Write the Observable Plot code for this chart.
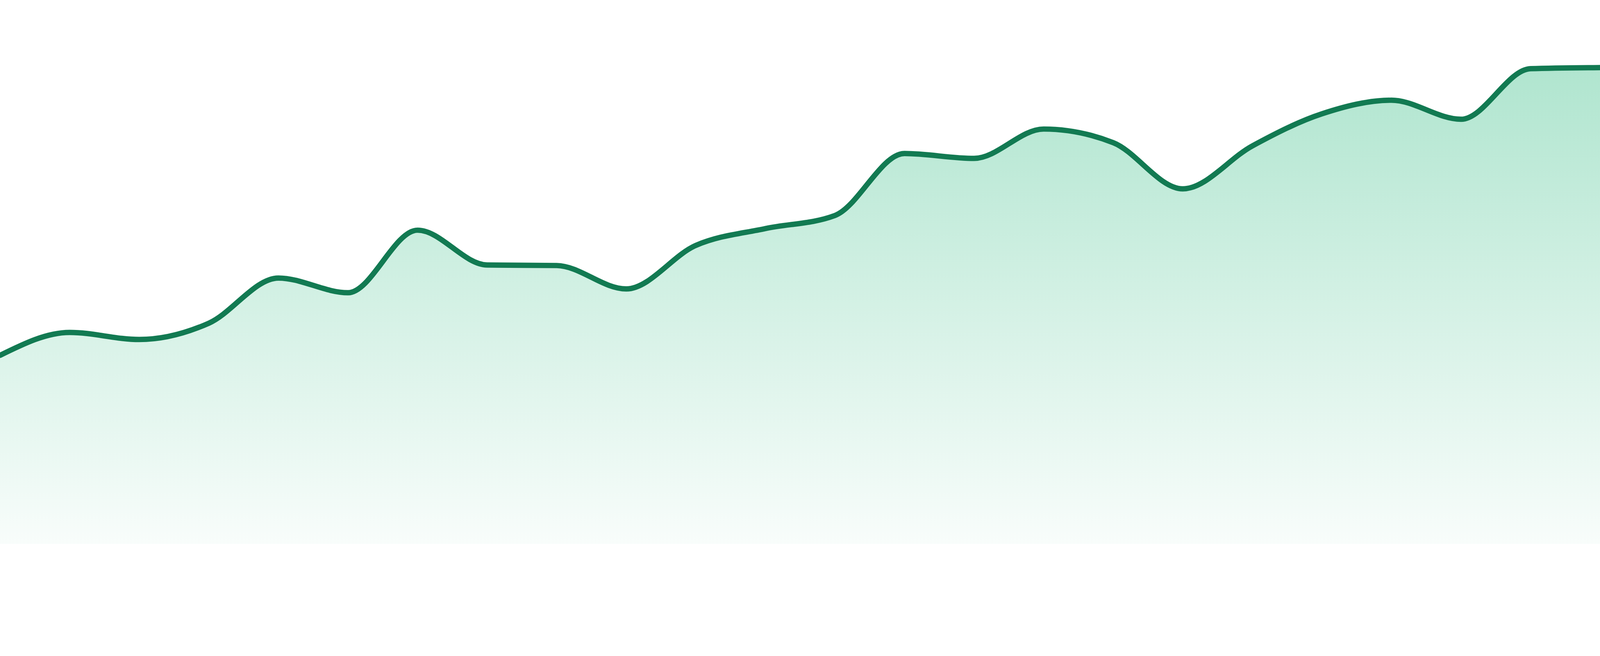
<!DOCTYPE html>
<html>
<head>
<meta charset="utf-8">
<script src="https://cdn.jsdelivr.net/npm/d3@7"></script>
<script src="https://cdn.jsdelivr.net/npm/@observablehq/plot@0.6"></script>
<style>
  html, body { margin: 0; padding: 0; background: #ffffff; overflow: hidden; }
  #chart svg { display: block; }
</style>
</head>
<body>
<div id="chart"></div>
<script>
// Data (24 evenly spaced points)
const steps = [0, 1, 2, 3, 4, 5, 6, 7, 8, 9, 10, 11, 12, 13, 14, 15, 16, 17, 18, 19, 20, 21, 22, 23];
const values = [34.7, 38.9, 37.6, 40.6, 48.9, 46.2, 57.7, 51.3, 51.2, 46.9, 54.9, 58.0,
                60.4, 71.8, 70.9, 76.3, 73.8, 65.3, 73.2, 79.1, 81.6, 78.1, 87.4, 87.6];
const yDomain = [0, 100];

const data = steps.map((s, i) => ({ step: s, value: values[i] }));

const gradientDefs = () => {
  const ns = "http://www.w3.org/2000/svg";
  const defs = document.createElementNS(ns, "defs");
  const lg = document.createElementNS(ns, "linearGradient");
  lg.setAttribute("id", "areaGrad");
  lg.setAttribute("x1", "0"); lg.setAttribute("y1", "0");
  lg.setAttribute("x2", "0"); lg.setAttribute("y2", "1");
  const stops = [[0, 0.35], [1, 0.03]];
  for (const [o, a] of stops) {
    const st = document.createElementNS(ns, "stop");
    st.setAttribute("offset", String(o));
    st.setAttribute("stop-color", "#1db576");
    st.setAttribute("stop-opacity", String(a));
    lg.appendChild(st);
  }
  defs.appendChild(lg);
  return defs;
};

const chart = Plot.plot({
  width: 4800,
  height: 1680,
  marginTop: 0,
  marginRight: 0,
  marginBottom: 48,
  marginLeft: 0,
  x: { domain: [steps[0], steps[steps.length - 1]], axis: null },
  y: { domain: yDomain, axis: null },
  marks: [
    gradientDefs,
    Plot.areaY(data, { x: "step", y: "value", curve: "monotone-x", fill: "url(#areaGrad)" }),
    Plot.lineY(data, { x: "step", y: "value", curve: "monotone-x", stroke: "#127a52", strokeWidth: 16 })
  ]
});
document.getElementById("chart").appendChild(chart);
</script>
</body>
</html>
